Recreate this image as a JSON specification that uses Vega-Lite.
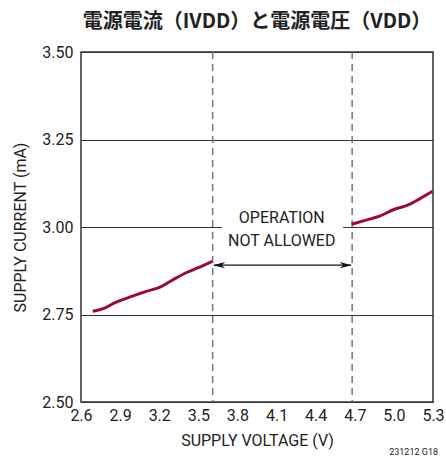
{
  "$schema": "https://vega.github.io/schema/vega-lite/v6.json",
  "width": 352,
  "height": 350,
  "autosize": {"type": "none"},
  "padding": {"left": 81, "top": 52, "right": 13, "bottom": 62},
  "background": "white",
  "title": {
    "text": "電源電流（IVDD）と電源電圧（VDD）",
    "font": "Noto Sans CJK JP",
    "fontSize": 20,
    "fontWeight": "bold",
    "color": "#222222",
    "anchor": "middle",
    "offset": 12
  },
  "config": {
    "view": {"stroke": "#333333", "strokeWidth": 1.5},
    "font": "Roboto",
    "axis": {
      "labelFont": "Roboto",
      "titleFont": "Roboto",
      "labelFontSize": 16,
      "titleFontSize": 16,
      "titleFontWeight": "normal",
      "labelColor": "#222222",
      "titleColor": "#222222",
      "labelOverlap": false,
      "domain": false,
      "ticks": false
    }
  },
  "layer": [
    {
      "data": {"values": [{"x1": 3.68, "x2": 4.61, "y1": 2.95, "y2": 3.06}]},
      "mark": {"type": "rect", "fill": "white"},
      "encoding": {
        "x": {"field": "x1", "type": "quantitative", "scale": {"domain": [2.6, 5.3], "nice": false, "zero": false},
          "axis": {"values": [2.6, 2.9, 3.2, 3.5, 3.8, 4.1, 4.4, 4.7, 5.0, 5.3], "tickCount": 20, "format": ".1f", "grid": false, "labelOverlap": false, "labelFlush": false, "labelBound": false, "title": "SUPPLY VOLTAGE (V)", "labelPadding": 5, "titlePadding": 9}},
        "x2": {"field": "x2"},
        "y": {"field": "y1", "type": "quantitative", "scale": {"domain": [2.5, 3.5], "nice": false, "zero": false},
          "axis": {"values": [2.5, 2.75, 3.0, 3.25, 3.5], "tickCount": 20, "format": ".2f", "grid": true, "labelOverlap": false, "labelFlush": false, "gridColor": "#333333", "gridWidth": 1, "gridOpacity": 1, "title": "SUPPLY CURRENT (mA)", "labelPadding": 8, "titlePadding": 13}},
        "y2": {"field": "y2"}
      }
    },
    {
      "data": {"values": [{"v": 3.61}, {"v": 4.68}]},
      "mark": {"type": "rule", "color": "#777777", "strokeWidth": 1.5, "strokeDash": [7, 5]},
      "encoding": {"x": {"field": "v", "type": "quantitative"}}
    },
    {
      "data": {"values": [
        {"x": 2.69, "y": 2.759, "s": "a"},
        {"x": 2.78, "y": 2.768, "s": "a"},
        {"x": 2.85, "y": 2.782, "s": "a"},
        {"x": 3.0, "y": 2.803, "s": "a"},
        {"x": 3.1, "y": 2.816, "s": "a"},
        {"x": 3.21, "y": 2.829, "s": "a"},
        {"x": 3.3, "y": 2.848, "s": "a"},
        {"x": 3.41, "y": 2.870, "s": "a"},
        {"x": 3.5, "y": 2.884, "s": "a"},
        {"x": 3.607, "y": 2.902, "s": "a"},
        {"x": 4.675, "y": 3.008, "s": "b"},
        {"x": 4.78, "y": 3.019, "s": "b"},
        {"x": 4.89, "y": 3.031, "s": "b"},
        {"x": 5.0, "y": 3.050, "s": "b"},
        {"x": 5.11, "y": 3.063, "s": "b"},
        {"x": 5.2, "y": 3.081, "s": "b"},
        {"x": 5.297, "y": 3.102, "s": "b"}
      ]},
      "mark": {"type": "line", "color": "#9b0a3a", "strokeWidth": 3, "interpolate": "monotone"},
      "encoding": {
        "x": {"field": "x", "type": "quantitative"},
        "y": {"field": "y", "type": "quantitative"},
        "detail": {"field": "s"}
      }
    },
    {
      "data": {"values": [{"a": 3.62, "b": 4.67, "y": 2.891}]},
      "mark": {"type": "rule", "color": "#111111", "strokeWidth": 1.3},
      "encoding": {
        "x": {"field": "a", "type": "quantitative"},
        "x2": {"field": "b"},
        "y": {"field": "y", "type": "quantitative"}
      }
    },
    {
      "data": {"values": [{"x": 3.612, "y": 2.891, "d": "L"}]},
      "mark": {"type": "point", "filled": true, "color": "#111111", "opacity": 1, "size": 150, "shape": "M 0 0 L 2 -0.5 L 1.4 0 L 2 0.5 Z"},
      "encoding": {
        "x": {"field": "x", "type": "quantitative"},
        "y": {"field": "y", "type": "quantitative"}
      }
    },
    {
      "data": {"values": [{"x": 4.678, "y": 2.891, "d": "R"}]},
      "mark": {"type": "point", "filled": true, "color": "#111111", "opacity": 1, "size": 150, "shape": "M 0 0 L -2 -0.5 L -1.4 0 L -2 0.5 Z"},
      "encoding": {
        "x": {"field": "x", "type": "quantitative"},
        "y": {"field": "y", "type": "quantitative"}
      }
    },
    {
      "data": {"values": [{"x": 4.14, "y": 3.026, "t": "OPERATION"}, {"x": 4.14, "y": 2.961, "t": "NOT ALLOWED"}]},
      "mark": {"type": "text", "fontSize": 16, "color": "#222222", "align": "center", "baseline": "middle"},
      "encoding": {
        "x": {"field": "x", "type": "quantitative"},
        "y": {"field": "y", "type": "quantitative"},
        "text": {"field": "t"}
      }
    },
    {
      "data": {"values": [{"x": 5.3, "y": 2.5, "t": "231212 G18"}]},
      "mark": {"type": "text", "fontSize": 9, "color": "#222222", "align": "right", "baseline": "middle", "dx": 5, "dy": 50},
      "encoding": {
        "x": {"field": "x", "type": "quantitative"},
        "y": {"field": "y", "type": "quantitative"},
        "text": {"field": "t"}
      }
    }
  ]
}
